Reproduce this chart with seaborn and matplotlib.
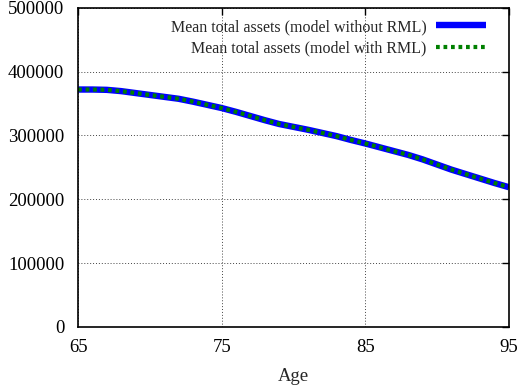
import matplotlib
matplotlib.use("Agg")
import matplotlib.pyplot as plt
import seaborn as sns
import pandas as pd

# Mean total assets by age (both models give the same path)
ages = list(range(65, 96))
assets_without_rml = [372000, 372000, 371500, 369500, 366500, 363500, 360500, 357500,
                      353000, 348000, 343000, 337000, 330500, 324000, 318000, 313500,
                      309000, 304000, 299000, 293000, 287500, 281500, 275500, 269500,
                      262500, 254500, 246500, 239500, 232500, 225500, 219000]
assets_with_rml = list(assets_without_rml)

label_without = "Mean total assets (model without RML)"
label_with = "Mean total assets (model with RML)"
x_ticks = [65, 75, 85, 95]
y_ticks = [0, 100000, 200000, 300000, 400000, 500000]

df = pd.DataFrame({
    "Age": ages * 2,
    "Assets": assets_without_rml + assets_with_rml,
    "Series": [label_without] * len(ages) + [label_with] * len(ages),
})

sns.set_style("white")
plt.rcParams["font.family"] = ["Liberation Serif", "DejaVu Serif"]

fig = plt.figure(figsize=(5.24, 3.92), dpi=100)
ax = fig.add_axes([0.149, 0.166, 0.822, 0.814])

green_dots = (0, (0.9, 0.9))

sns.lineplot(data=df[df["Series"] == label_without], x="Age", y="Assets",
             color="#0000ff", linewidth=4.6, ax=ax, label=label_without,
             solid_capstyle="butt")
sns.lineplot(data=df[df["Series"] == label_with], x="Age", y="Assets",
             color="#008000", linewidth=3.0, ax=ax, label=label_with,
             dashes=False)
ax.lines[1].set_linestyle(green_dots)
ax.lines[1].set_dash_capstyle("butt")

ax.set_xlim(65, 95)
ax.set_ylim(0, 500000)
ax.set_xticks(x_ticks)
ax.set_yticks(y_ticks)
ax.set_xticklabels([str(t) for t in x_ticks])
ax.set_yticklabels([str(t) for t in y_ticks])
ax.tick_params(direction="in", length=5, width=1, labelsize=13.5, top=True, right=True,
               colors="black")
ax.tick_params(axis="x", pad=9)
ax.tick_params(axis="y", pad=10)
ax.grid(True, color="#444444", linestyle=(0, (1, 2)), linewidth=0.7)
for s in ax.spines.values():
    s.set_color("black")
    s.set_linewidth(1.2)

ax.set_xlabel("Age", fontsize=13.5, labelpad=8)
ax.set_ylabel("")

leg = ax.legend(loc="upper right", bbox_to_anchor=(1 - 12 / 431, 1.0),
                frameon=False, markerfirst=False, fontsize=11.5,
                handlelength=3.1, borderaxespad=0.3, labelspacing=0.35,
                handletextpad=0.6)
leg.get_lines()[1].set_linestyle(green_dots)
leg.get_lines()[1].set_dash_capstyle("butt")

fig.savefig("out.png", dpi=100)
